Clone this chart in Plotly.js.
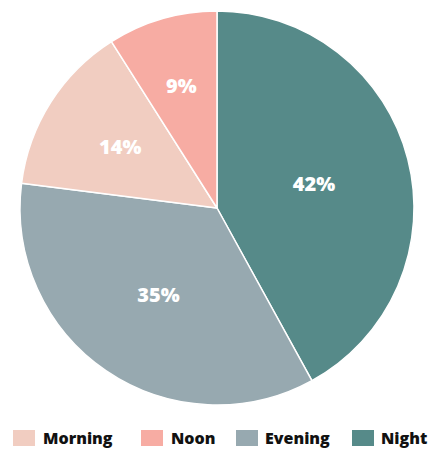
<!DOCTYPE html>
<html>
<head>
<meta charset="utf-8">
<script src="https://cdn.plot.ly/plotly-3.0.1.min.js"></script>
<style>html,body{margin:0;padding:0;background:#fff;}#chart{width:429px;height:450px;}</style>
</head>
<body>
<div id="chart"></div>
<script>
// Data
const labels = ['Morning', 'Noon', 'Evening', 'Night'];
const values = [14, 9, 35, 42];
const colors = ['#f1cdc1', '#f7aca3', '#97a9b0', '#568a89'];

// Which slices get their percentage drawn by the outer pie vs. the inner label ring
const outerLabelTemplate = ['', '', '%{percent}', '%{percent}'];
const innerLabelTemplate = ['%{percent}', '%{percent}', '', ''];

// Layout constants (pixels)
const W = 429, H = 450;
const CX = 217, CY = 208, R = 197, R_LABEL = 163.5;
const legendSwatchX = [13, 141, 236, 352];
const legendTextX = [41, 169, 263, 379];
const legendY0 = 430, legendY1 = 446, legendTextY = 438;

const FONT = 'Open Sans, Lato, sans-serif';

function domainFor(r) {
  return {x: [(CX - r) / W, (CX + r) / W], y: [1 - (CY + r) / H, 1 - (CY - r) / H]};
}

const shapes = labels.map((l, i) => ({
  type: 'rect', xref: 'paper', yref: 'paper',
  x0: legendSwatchX[i] / W, x1: (legendSwatchX[i] + 22) / W,
  y0: 1 - legendY1 / H, y1: 1 - legendY0 / H,
  fillcolor: colors[i], line: {width: 0}
}));
const annotations = labels.map((l, i) => ({
  xref: 'paper', yref: 'paper', x: legendTextX[i] / W, y: 1 - legendTextY / H,
  xanchor: 'left', yanchor: 'middle', showarrow: false, text: l,
  font: {family: FONT, size: 16, color: '#111', weight: 800}
}));

const common = {
  type: 'pie',
  labels: labels,
  values: values,
  sort: true,
  direction: 'clockwise',
  rotation: 0,
  textposition: 'inside',
  insidetextorientation: 'horizontal',
  textfont: {family: FONT, size: 20, color: '#ffffff', weight: 800},
  showlegend: false
};

const pieTrace = Object.assign({}, common, {
  marker: {colors: colors, line: {color: '#ffffff', width: 1.5}},
  texttemplate: outerLabelTemplate,
  hoverinfo: 'label+percent',
  domain: domainFor(R)
});

const labelTrace = Object.assign({}, common, {
  marker: {colors: labels.map(() => 'rgba(0,0,0,0)'), line: {width: 0}},
  texttemplate: innerLabelTemplate,
  hoverinfo: 'skip',
  domain: domainFor(R_LABEL)
});

const layout = {
  width: W, height: H,
  margin: {l: 0, r: 0, t: 0, b: 0},
  paper_bgcolor: '#ffffff',
  showlegend: false,
  shapes: shapes,
  annotations: annotations
};

Plotly.newPlot('chart', [pieTrace, labelTrace], layout, {displayModeBar: false});
</script>
</body>
</html>
